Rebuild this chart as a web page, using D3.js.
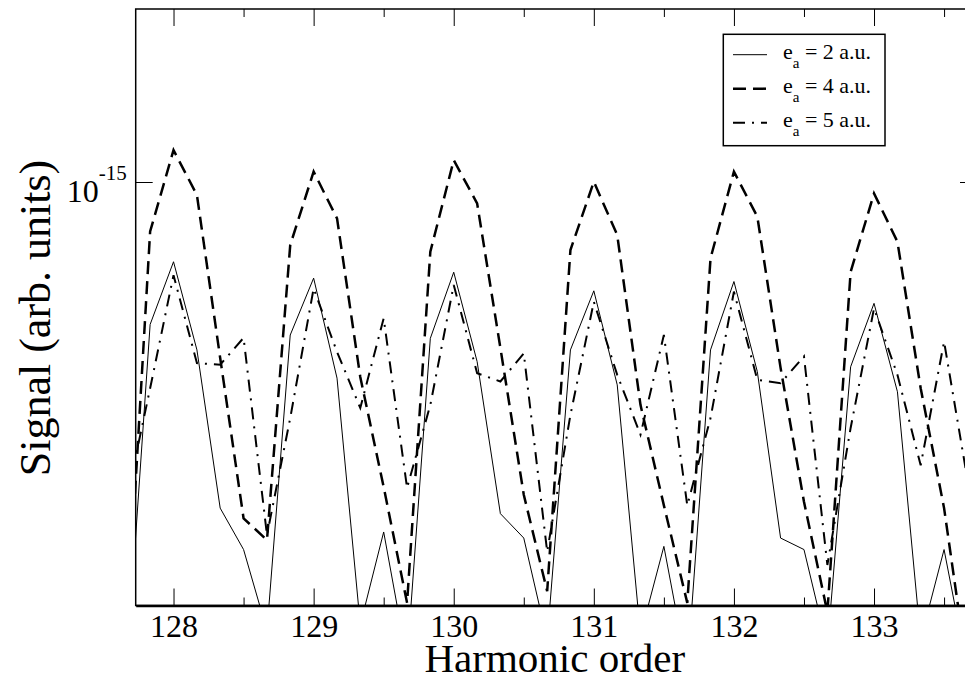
<!DOCTYPE html>
<html>
<head>
<meta charset="utf-8">
<script src="https://cdn.jsdelivr.net/npm/d3@7"></script>
<style>
  body { margin: 0; background: #fff; }
  svg { display: block; font-family: "Liberation Serif", "Times New Roman", serif; }
</style>
</head>
<body>
<svg id="chart" width="965" height="680"></svg>
<script>
// harmonic order sampling (x)
const harmonic = [127.667, 127.833, 128, 128.167, 128.333, 128.5, 128.667, 128.833,
  129, 129.167, 129.333, 129.5, 129.667, 129.833, 130, 130.167, 130.333, 130.5,
  130.667, 130.833, 131, 131.167, 131.333, 131.5, 131.667, 131.833, 132, 132.167,
  132.333, 132.5, 132.667, 132.833, 133, 133.167, 133.333, 133.5, 133.667];

// signal values in units of 1e-15
const ea2 = [0.155, 0.577, 0.735, 0.523, 0.284, 0.242, 0.177, 0.554, 0.690, 0.469,
  0.181, 0.259, 0.158, 0.547, 0.706, 0.500, 0.278, 0.253, 0.171, 0.523, 0.657, 0.457,
  0.174, 0.245, 0.152, 0.523, 0.681, 0.481, 0.253, 0.242, 0.166, 0.490, 0.626, 0.445,
  0.171, 0.242, 0.152];
const ea4 = [0.175, 0.826, 1.131, 0.951, 0.507, 0.273, 0.251, 0.784, 1.041, 0.869,
  0.471, 0.308, 0.197, 0.764, 1.088, 0.921, 0.527, 0.299, 0.206, 0.769, 1.001, 0.815,
  0.423, 0.287, 0.197, 0.745, 1.041, 0.875, 0.488, 0.291, 0.190, 0.707, 0.957, 0.794,
  0.451, 0.284, 0.151];
const ea5 = [0.295, 0.451, 0.698, 0.497, 0.494, 0.548, 0.256, 0.402, 0.663, 0.519,
  0.418, 0.591, 0.307, 0.423, 0.672, 0.478, 0.463, 0.516, 0.240, 0.407, 0.630, 0.475,
  0.377, 0.554, 0.287, 0.402, 0.655, 0.466, 0.460, 0.510, 0.228, 0.387, 0.614, 0.475,
  0.335, 0.540, 0.317];

const xTicks = [128, 129, 130, 131, 132, 133];
const xMinor = [128.5, 129.5, 130.5, 131.5, 132.5, 133.5];
const yTicks = [1e-15];

const series = [
  {name: "2", values: ea2, width: 1, dash: null},
  {name: "4", values: ea4, width: 2.5, dash: "13,7"},
  {name: "5", values: ea5, width: 2, dash: "12,7,2,7"}
];

const svg = d3.select("#chart");
const m = {left: 135.7, right: 977, top: 9, bottom: 605.5};

const x = d3.scaleLinear().domain([127.73, 133.735]).range([m.left, m.right]);
const y = d3.scaleLog().domain([0.195e-15, 1.95e-15]).range([m.bottom, m.top]);

svg.append("defs").append("clipPath").attr("id", "clip")
  .append("rect").attr("x", m.left).attr("y", m.top)
  .attr("width", m.right - m.left).attr("height", m.bottom - m.top);

// lines
const line = d3.line()
  .x((d, i) => x(harmonic[i]))
  .y(d => y(d * 1e-15));

const plot = svg.append("g").attr("clip-path", "url(#clip)");
series.forEach(s => {
  plot.append("path")
    .datum(s.values)
    .attr("fill", "none")
    .attr("stroke", "#000")
    .attr("stroke-width", s.width)
    .attr("stroke-dasharray", s.dash)
    .attr("d", line);
});

// frame
svg.append("rect")
  .attr("x", m.left).attr("y", m.top)
  .attr("width", m.right - m.left).attr("height", m.bottom - m.top)
  .attr("fill", "none").attr("stroke", "#000").attr("stroke-width", 1.5);

// bottom axis
const xAxis = svg.append("g")
  .attr("transform", `translate(0,${m.bottom})`)
  .call(d3.axisBottom(x).tickValues(xTicks).tickFormat(d3.format("d"))
    .tickSizeInner(-17).tickSizeOuter(0).tickPadding(9))
  .attr("font-family", null).attr("font-size", null);
xAxis.select(".domain").attr("stroke-width", 2.5);
xAxis.selectAll("text").style("font-size", "32px").attr("fill", "#000");

svg.append("g")
  .attr("transform", `translate(0,${m.bottom})`)
  .call(d3.axisBottom(x).tickValues(xMinor).tickFormat("").tickSizeInner(-8).tickSizeOuter(0))
  .select(".domain").remove();

// top axis
svg.append("g")
  .attr("transform", `translate(0,${m.top})`)
  .call(d3.axisTop(x).tickValues(xTicks).tickFormat("").tickSizeInner(-17).tickSizeOuter(0))
  .select(".domain").remove();
svg.append("g")
  .attr("transform", `translate(0,${m.top})`)
  .call(d3.axisTop(x).tickValues(xMinor).tickFormat("").tickSizeInner(-8).tickSizeOuter(0))
  .select(".domain").remove();

// left axis
const yAxis = svg.append("g")
  .attr("transform", `translate(${m.left},0)`)
  .call(d3.axisLeft(y).tickValues(yTicks).tickFormat("").tickSizeInner(-17).tickSizeOuter(0).tickPadding(9))
  .attr("font-family", null).attr("font-size", null);
yAxis.select(".domain").remove();
const yt = yAxis.selectAll(".tick text").attr("dy", null).attr("fill", "#000");
yt.append("tspan").attr("dy", 19.5).style("font-size", "32px").text("10");
yt.append("tspan").attr("dy", -22).style("font-size", "21px").text("-15");

// right axis
svg.append("g")
  .attr("transform", `translate(${m.right},0)`)
  .call(d3.axisRight(y).tickValues(yTicks).tickFormat("").tickSizeInner(-17).tickSizeOuter(0))
  .select(".domain").remove();

// axis titles
svg.append("text")
  .attr("x", (m.left + 964) / 2 + 5).attr("y", 672)
  .attr("text-anchor", "middle")
  .style("font-size", "41px")
  .text("Harmonic order");

svg.append("text")
  .attr("transform", "translate(50,318) rotate(-90)")
  .attr("text-anchor", "middle")
  .style("font-size", "44px")
  .text("Signal (arb. units)");

// legend
const legend = svg.append("g");
legend.append("rect")
  .attr("x", 723.3).attr("y", 34.3).attr("width", 161.7).attr("height", 111.4)
  .attr("fill", "#fff").attr("stroke", "#000").attr("stroke-width", 1.5);

series.forEach((s, i) => {
  const ly = 54.7 + i * 34;
  legend.append("line")
    .attr("x1", 733).attr("x2", 767).attr("y1", ly).attr("y2", ly)
    .attr("stroke", "#000").attr("stroke-width", s.width)
    .attr("stroke-dasharray", s.dash);
  const t = legend.append("text")
    .attr("x", 783).attr("y", ly + 4.6)
    .style("font-size", "22px");
  t.append("tspan").text("e");
  t.append("tspan").attr("dy", 9).style("font-size", "15px").text("a");
  t.append("tspan").attr("dy", -9).text(` = ${s.name} a.u.`);
});
</script>
</body>
</html>
